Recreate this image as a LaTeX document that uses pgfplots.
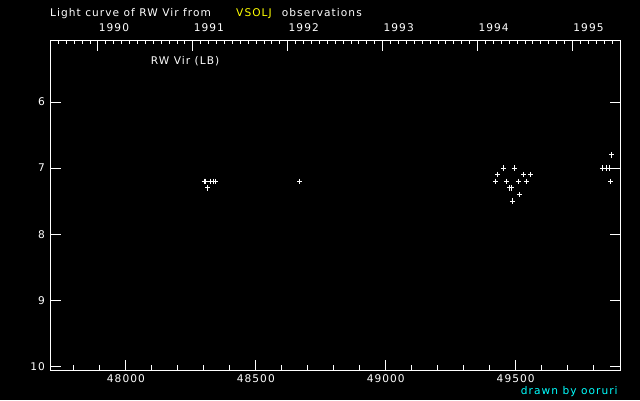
\documentclass[border=0pt]{standalone}
\usepackage{fontspec}
\setmainfont[LetterSpace=10]{DejaVu Sans}
\usepackage{pgfplots}
\pgfplotsset{compat=1.18}
\definecolor{vyellow}{RGB}{255,255,0}
\definecolor{vcyan}{RGB}{0,255,255}

\begin{document}
\begin{tikzpicture}
\path[use as bounding box] (0,0) rectangle (640pt,400pt);
\fill[black] (0,0) rectangle (640pt,400pt);

% main axis: JD - 2400000 against magnitude
\begin{axis}[
  at={(50.5pt,30pt)}, anchor=south west,
  scale only axis, width=569.5pt, height=329.3pt,
  xmin=47709.9, xmax=49901.4,
  ymin=5.072, ymax=10.056, y dir=reverse,
  xtick={48000,48500,49000,49500},
  minor xtick={47800,47900,...,49800},
  ytick={6,7,8,9,10},
  scaled x ticks=false,
  xtick pos=left, xticklabel pos=left,
  ytick pos=both, yticklabel pos=left,
  tick align=inside,
  major tick length=10pt, minor tick length=5pt,
  axis line style={white, line width=1pt},
  tick style={white, line width=1pt},
  ticklabel style={white, font=\fontsize{10.6}{12}\selectfont},
  xticklabel style={anchor=north, inner sep=0pt, yshift=-4pt},
  yticklabel style={anchor=east, inner sep=0pt, xshift=-5.5pt},
  /pgf/number format/1000 sep={},
  /pgf/number format/assume math mode=true,
]
\addplot[only marks, mark=+, mark size=2.7pt, white, mark options={line width=1.1pt}]
  coordinates {
  (48302,7.2) (48308,7.2) (48327,7.2) (48336,7.2) (48345,7.2) (48315,7.3)
  (48669,7.2)
  (49453,7.0) (49496,7.0) (49430,7.1) (49530,7.1) (49557,7.1)
  (49423,7.2) (49465,7.2) (49511,7.2) (49542,7.2)
  (49476,7.3) (49484,7.3) (49515,7.4) (49488,7.5)
  (49869,6.8) (49834,7.0) (49849,7.0) (49861,7.0) (49865,7.2)
  };
\end{axis}

% top axis: calendar years, months since 1990.0
\begin{axis}[
  at={(50.5pt,30pt)}, anchor=south west,
  scale only axis, width=569.5pt, height=329.3pt,
  xmin=-6, xmax=66, ymin=0, ymax=1,
  xtick={0,12,24,36,48,60},
  xticklabels={1990,1991,1992,1993,1994,1995},
  minor xtick={-5,-4,...,65},
  ytick=\empty,
  xtick pos=right, xticklabel pos=right,
  tick align=inside,
  major tick length=10pt, minor tick length=3.5pt,
  axis line style={white, line width=1pt},
  tick style={white, line width=1pt},
  ticklabel style={white, font=\fontsize{10.6}{12}\selectfont},
  xticklabel style={anchor=south west, inner sep=0pt, yshift=8.5pt, xshift=0.7pt},
]
\end{axis}

\begin{scope}[every node/.style={inner sep=0pt, anchor=base west, font=\fontsize{10.6}{12}\selectfont}]
\node[white] at (50pt,383.7pt) {Light curve of RW Vir from};
\node[vyellow] at (236pt,383.7pt) {VSOLJ};
\node[white] at (281.7pt,383.7pt) {observations};
\node[white] at (150.7pt,335.3pt) {RW Vir (LB)};
\node[vcyan] at (520.7pt,5.7pt) {drawn by ooruri};
\end{scope}
\end{tikzpicture}
\end{document}
